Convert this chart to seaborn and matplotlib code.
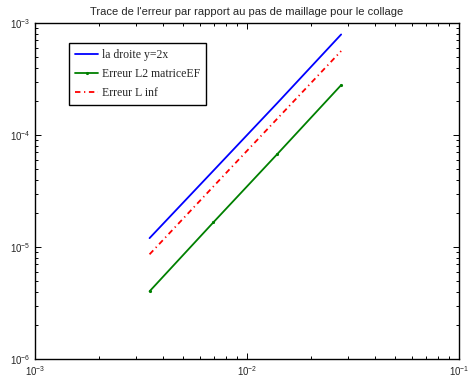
import pandas as pd
import matplotlib
matplotlib.use('Agg')
import matplotlib.pyplot as plt
import matplotlib.ticker as mticker
import seaborn as sns

# pas de maillage h
h = [0.00347, 0.00694, 0.0139, 0.0278]
droite = [1.2e-5, 4.8e-5, 1.93e-4, 7.9e-4]
erreur_l2 = [4.02e-6, 1.66e-5, 6.76e-5, 2.79e-4]
erreur_linf = [8.6e-6, 3.47e-5, 1.40e-4, 5.62e-4]

labels = ['la droite y=2x', 'Erreur L2 matriceEF', 'Erreur L inf']

data = pd.DataFrame({'h': h, 'droite': droite, 'l2': erreur_l2, 'linf': erreur_linf})

sns.set_style('ticks')
plt.rcParams['font.family'] = ['Liberation Sans', 'DejaVu Sans']

fig = plt.figure(figsize=(4.68, 3.83), dpi=100)
ax = fig.add_axes([35 / 468, 24 / 383, 424 / 468, 336 / 383])

sns.lineplot(data=data, x='h', y='droite', ax=ax, color='#0000ff', lw=1.3, label=labels[0])
sns.lineplot(data=data, x='h', y='l2', ax=ax, color='#008000', lw=1.3, marker='.', markersize=3,
             markeredgecolor='#008000', label=labels[1])
sns.lineplot(data=data, x='h', y='linf', ax=ax, color='#ff0000', lw=1.3,
             linestyle=(0, (3, 2, 0.7, 2)), label=labels[2])

ax.set_xscale('log')
ax.set_yscale('log')
ax.set_xlim(1e-3, 1e-1)
ax.set_ylim(1e-6, 1e-3)
ax.set_xlabel('')
ax.set_ylabel('')
ax.set_title("Trace de l'erreur par rapport au pas de maillage pour le collage", fontsize=8, pad=6)

ax.xaxis.set_minor_locator(mticker.LogLocator(base=10, subs=range(2, 10), numticks=20))
ax.yaxis.set_minor_locator(mticker.LogLocator(base=10, subs=range(2, 10), numticks=20))
ax.xaxis.set_minor_formatter(mticker.NullFormatter())
ax.yaxis.set_minor_formatter(mticker.NullFormatter())

ax.tick_params(which='major', direction='in', top=True, right=True, labelsize=7,
               length=4, width=0.7, color='black')
ax.tick_params(which='minor', direction='in', top=True, right=True, bottom=True, left=True,
               length=2.5, width=0.7, color='black')
for s in ax.spines.values():
    s.set_linewidth(1.0)
    s.set_color('black')

leg = ax.legend(loc='upper left', bbox_to_anchor=(0.08, 0.94), borderaxespad=0, fancybox=False,
                framealpha=1, edgecolor='black', prop={'family': 'Liberation Serif', 'size': 8.5},
                handlelength=2.0, borderpad=0.5, labelspacing=0.6, handletextpad=0.3)
leg.get_frame().set_linewidth(1.0)

fig.savefig('out.png', dpi=100)
